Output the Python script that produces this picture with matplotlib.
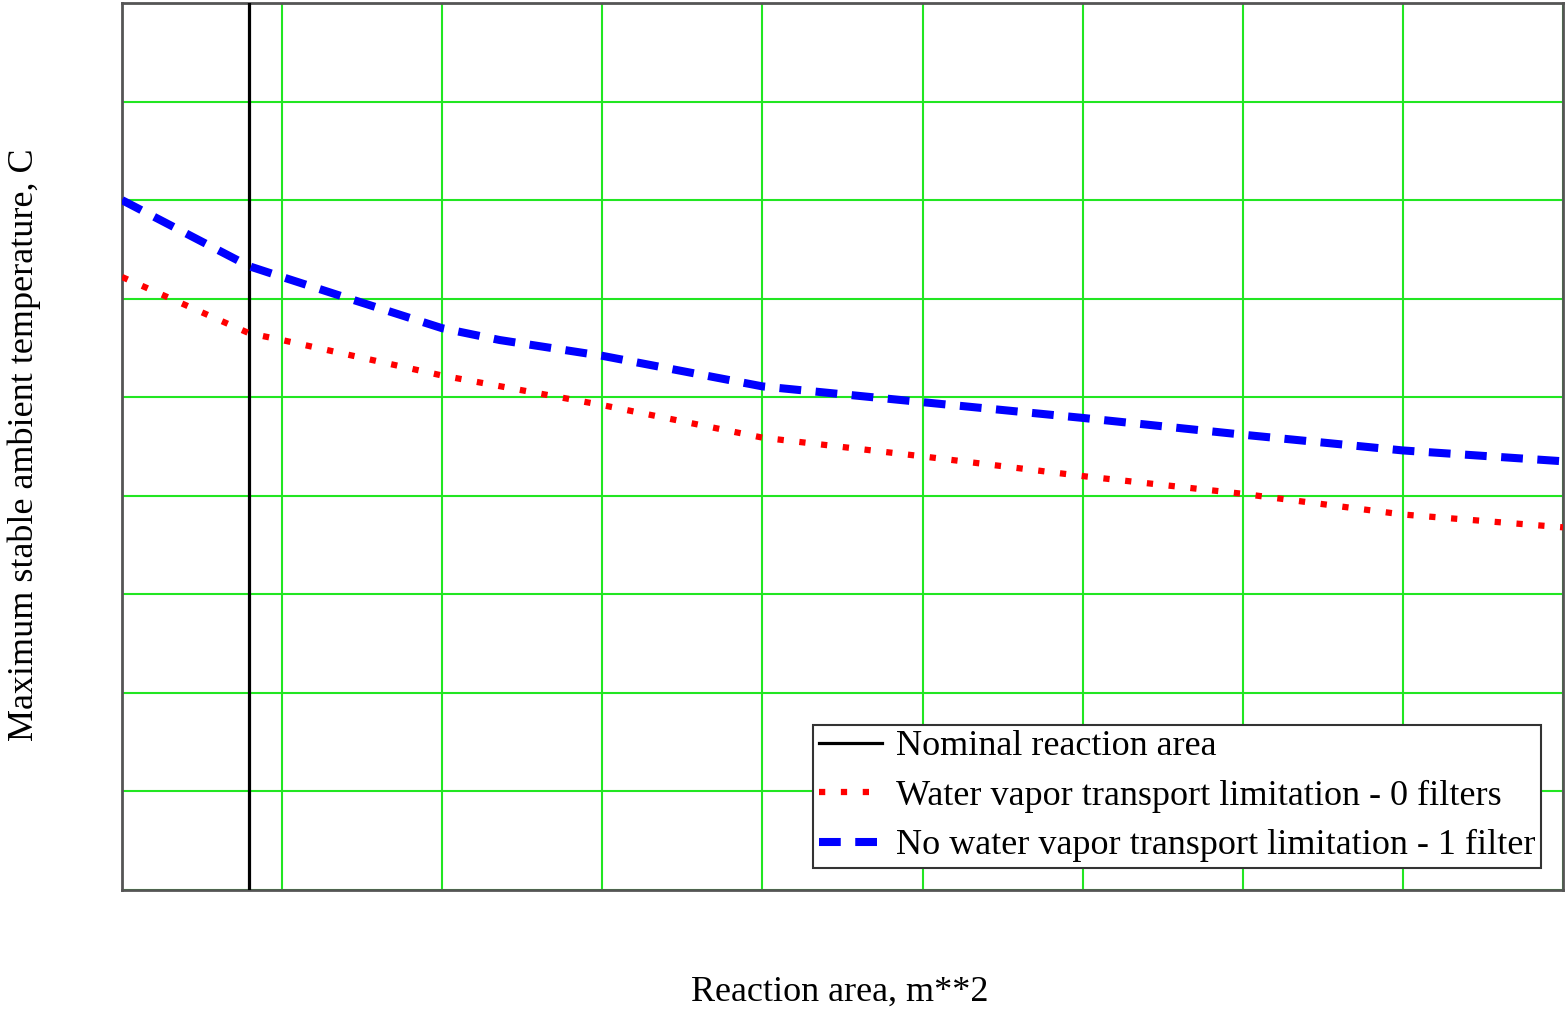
import numpy as np
import matplotlib
matplotlib.use("Agg")
import matplotlib.pyplot as plt

# reaction area in grid units (no tick labels on the original)
area = [0.0, 0.793, 1.0, 1.42, 2.0, 2.36, 3.0, 4.0, 5.0, 6.0, 7.0, 8.0, 9.0]
temp_1filter = [7.00, 6.33, 6.22, 6.00, 5.70, 5.58, 5.42, 5.11, 4.95, 4.79, 4.62, 4.46, 4.35]

area_w = [0.0, 0.793, 1.0, 2.0, 3.0, 4.0, 5.0, 6.0, 7.0, 8.0, 9.0]
temp_0filter = [6.22, 5.65, 5.58, 5.22, 4.92, 4.59, 4.40, 4.20, 4.02, 3.81, 3.68]

nominal_area = 0.793

plt.rcParams['font.family'] = ['Liberation Serif', 'DejaVu Serif']

W, H = 1565, 1009
fig = plt.figure(figsize=(W / 100, H / 100), dpi=100)
ax = fig.add_axes([122 / W, 1 - 890 / H, 1441 / W, 887 / H])

ax.axvline(nominal_area, color='black', lw=2.3, label='Nominal reaction area', zorder=3)
ax.plot(area_w, temp_0filter, color='red', lw=4.5, linestyle=(0, (1, 2.5)),
        label='Water vapor transport limitation - 0 filters', zorder=4)
ax.plot(area, temp_1filter, color='blue', lw=5.8, linestyle=(0, (2.7, 1.8)),
        label='No water vapor transport limitation - 1 filter', zorder=5)

ax.set_xlim(0, 9)
ax.set_ylim(0, 9)
ax.set_xticks(np.arange(0, 10, 1))
ax.set_yticks(np.arange(0, 10, 1))
ax.tick_params(length=0, labelbottom=False, labelleft=False)
ax.grid(True, color='#22e622', lw=1.5)
ax.set_axisbelow(True)
for s in ax.spines.values():
    s.set_color('#555555')
    s.set_linewidth(2)

fig.text(840 / W, 1 - 992 / H, 'Reaction area, m**2', fontsize=26,
         ha='center', va='center')
fig.text(24 / W, 1 - 445 / H, 'Maximum stable ambient temperature, C', fontsize=26,
         ha='center', va='center', rotation=90)

leg = ax.legend(loc='lower right', bbox_to_anchor=(0.985, 0.025), borderaxespad=0,
                fontsize=26, fancybox=False, framealpha=1, edgecolor='#333333',
                handlelength=1.75, handletextpad=0.4, labelspacing=0.45,
                borderpad=0.15)
leg.get_frame().set_linewidth(1.5)

fig.savefig('out.png', dpi=100)
